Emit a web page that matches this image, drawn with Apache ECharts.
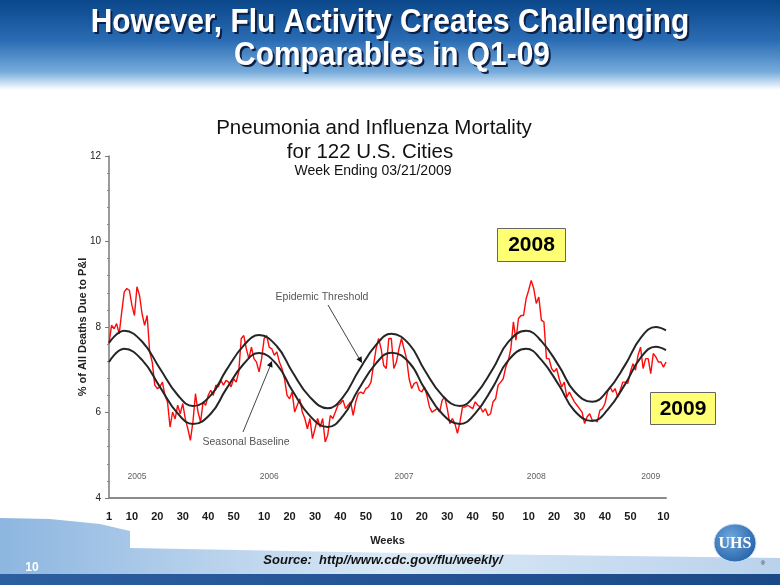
<!DOCTYPE html>
<html><head><meta charset="utf-8">
<script src="https://cdn.jsdelivr.net/npm/echarts@6/dist/echarts.min.js"></script>
<style>html,body{margin:0;padding:0;background:#fff}#c{width:780px;height:585px}</style>
</head><body><div id="c"></div>
<script>
// ---- data ----
const years = [2005, 2006, 2007, 2008, 2009];
const weeksPerYear = [52, 52, 52, 53, 11];
const xTickWeeks = [10, 20, 30, 40, 50];
const yearLabelIdx = [11, 63, 116, 168, 213];

// % of all deaths due to P&I, weekly (2005 wk1 .. 2009 wk11)
const pAndI = [
  7.61, 8.04, 7.96, 8.08, 7.84, 8.35, 8.82, 8.90, 8.86, 8.51,
  8.27, 8.94, 8.74, 8.31, 8.04, 8.27, 7.42, 7.18, 6.64, 6.56,
  6.60, 6.71, 6.40, 6.25, 5.66, 6.01, 5.85, 6.17, 5.97, 6.21,
  5.85, 5.62, 5.35, 5.78, 6.44, 6.01, 5.78, 6.25, 6.17, 6.40,
  6.52, 6.40, 6.64, 6.60, 6.75, 6.64, 6.75, 6.71, 6.60, 6.79,
  6.71, 6.95, 7.73, 7.80, 7.49, 7.26, 7.53, 7.26, 7.18, 6.95,
  7.26, 7.73, 7.80, 7.53, 7.49, 7.34, 7.42, 7.18, 7.03, 6.79,
  6.40, 6.32, 6.48, 6.01, 6.17, 6.32, 6.01, 5.86, 5.62, 5.86,
  5.39, 5.62, 5.86, 5.66, 5.86, 5.31, 5.47, 5.93, 5.86, 6.01,
  6.17, 6.21, 6.29, 6.09, 6.17, 6.25, 5.93, 6.25, 6.44, 6.48,
  6.44, 6.56, 6.60, 6.71, 7.10, 7.49, 7.73, 7.49, 7.10, 7.03,
  7.73, 7.73, 7.03, 7.18, 7.49, 7.73, 7.49, 7.26, 6.79, 6.56,
  6.68, 6.71, 6.52, 6.48, 6.60, 6.40, 6.13, 6.01, 6.05, 6.09,
  6.01, 6.29, 6.36, 6.09, 5.74, 5.86, 5.74, 5.51, 5.78, 6.13,
  6.13, 6.17, 6.13, 6.09, 6.25, 6.17, 6.13, 6.01, 6.09, 5.93,
  5.97, 6.25, 6.32, 6.64, 6.71, 6.79, 7.06, 7.22, 7.49, 8.12,
  7.69, 8.20, 8.27, 8.27, 8.66, 8.86, 9.09, 8.90, 8.55, 8.70,
  8.16, 8.12, 7.26, 7.26, 7.03, 6.95, 7.03, 6.79, 6.60, 6.71,
  6.36, 6.48, 6.36, 6.25, 6.17, 6.09, 6.01, 5.74, 5.90, 5.97,
  5.82, 5.82, 5.78, 6.05, 6.09, 6.21, 6.48, 6.60, 6.48, 6.56,
  6.36, 6.52, 6.71, 6.71, 6.68, 6.95, 7.14, 6.99, 7.34, 7.53,
  7.03, 7.26, 7.26, 6.91, 7.38, 7.30, 7.18, 7.18, 7.06, 7.18
];

// smooth curves sampled at these week indexes
const curveWeekIdx = [0,6,13,20,27,33, 40,46,53,59, 66,72,79,86, 92,98,105,111,
  118,124,131,138, 144,151,157,164, 170,177,183,190, 196,203,209,215,219];
const thresholdVals = [7.63,7.91,7.66,7.03,6.41,6.15, 6.40,6.98,7.57,7.81, 7.55,6.96,6.36,6.10,
  6.36,6.96,7.58,7.84, 7.60,7.00,6.40,6.15, 6.41,7.03,7.65,7.91, 7.67,7.08,6.49,6.25,
  6.51,7.12,7.74,8.00,7.92];
const baselineVals = [7.18,7.49,7.23,6.60,5.98,5.73, 5.97,6.54,7.14,7.39, 7.12,6.52,5.92,5.66,
  5.92,6.53,7.15,7.40, 7.17,6.57,5.97,5.73, 5.98,6.60,7.22,7.49, 7.23,6.63,6.04,5.80,
  6.06,6.67,7.28,7.54,7.46];

// ---- build ----
const categories = [];
const weekOf = [];
years.forEach((y, k) => {
  for (let w = 1; w <= weeksPerYear[k]; w++) { categories.push(y + ' W' + w); weekOf.push(w); }
});
const thresholdData = curveWeekIdx.map((i, k) => [i, thresholdVals[k]]);
const baselineData = curveWeekIdx.map((i, k) => [i, baselineVals[k]]);
const yearData = yearLabelIdx.map((i, k) => ({ value: [i, 4.5], name: String(years[k]) }));

const F = 'Liberation Sans, Arial, sans-serif';
function txt(text, x, y, font, fill, align, sx) {
  return { type: 'text', x: x, y: y, silent: true, scaleX: sx || 1,
    style: { text: text, font: font, fill: fill, align: align || 'center', verticalAlign: 'middle' } };
}
const TF = 'bold 34px ' + F;

const chart = echarts.init(document.getElementById('c'));
chart.setOption({
  animation: false,
  backgroundColor: '#ffffff',
  grid: { left: 109, right: 114, top: 156, bottom: 87, containLabel: false },
  xAxis: {
    type: 'category', data: categories, boundaryGap: false,
    name: 'Weeks', nameLocation: 'middle', nameGap: 37,
    nameTextStyle: { fontFamily: F, fontSize: 11, fontWeight: 'bold', color: '#222' },
    axisLine: { lineStyle: { color: '#8a8a8a', width: 2 } },
    axisTick: { show: false },
    axisLabel: {
      margin: 13, fontFamily: F, fontSize: 11, fontWeight: 'bold', color: '#1a1a1a',
      interval: (idx) => idx === 0 || xTickWeeks.indexOf(weekOf[idx]) >= 0,
      formatter: (v, idx) => String(weekOf[idx])
    },
    splitLine: { show: false }
  },
  yAxis: {
    type: 'value', min: 4, max: 12, interval: 2,
    name: '% of All Deaths Due to P&I', nameLocation: 'middle', nameGap: 21, nameRotate: 90,
    nameMoveOverlap: false,
    nameTextStyle: { fontFamily: F, fontSize: 11, fontWeight: 'bold', color: '#222' },
    axisLine: { show: true, lineStyle: { color: '#7a7a7a', width: 1.5 } },
    axisTick: { show: true, length: 4, lineStyle: { color: '#7a7a7a' } },
    minorTick: { show: true, splitNumber: 5, length: 2, lineStyle: { color: '#8a8a8a' } },
    axisLabel: { margin: 8, fontFamily: F, fontSize: 10, color: '#222' },
    splitLine: { show: false }
  },
  series: [
    { type: 'line', name: 'P&I', data: pAndI, showSymbol: false, symbol: 'none',
      lineStyle: { color: '#ff0a0a', width: 1.4 }, z: 2 },
    { type: 'line', name: 'Epidemic Threshold', data: thresholdData, symbol: 'none', smooth: 0.45,
      lineStyle: { color: '#252525', width: 2 }, z: 3 },
    { type: 'line', name: 'Seasonal Baseline', data: baselineData, symbol: 'none', smooth: 0.45,
      lineStyle: { color: '#252525', width: 2 }, z: 3 },
    { type: 'scatter', data: yearData, symbolSize: 0, silent: true,
      label: { show: true, position: 'inside', formatter: (p) => p.name,
        fontFamily: F, fontSize: 8.5, color: '#333' } }
  ],
  graphic: [
    // top banner
    { type: 'rect', shape: { x: 0, y: 0, width: 780, height: 90 }, silent: true,
      style: { fill: new echarts.graphic.LinearGradient(0, 0, 0, 1, [
        { offset: 0, color: '#0a468a' }, { offset: 0.45, color: '#2a6cb4' },
        { offset: 0.8, color: '#78abdb' }, { offset: 0.93, color: '#cfe3f5' }, { offset: 1, color: '#ffffff' }]) } },
    txt('However, Flu Activity Creates Challenging', 392, 25, TF, '#0c1f45', 'center', 0.88),
    txt('Comparables in Q1-09', 394, 58, TF, '#0c1f45', 'center', 0.88),
    txt('However, Flu Activity Creates Challenging', 390, 23, TF, '#ffffff', 'center', 0.88),
    txt('Comparables in Q1-09', 392, 56, TF, '#ffffff', 'center', 0.88),
    // bottom decoration
    { type: 'polygon', silent: true,
      shape: { points: [[0,518],[50,519],[100,524],[130,531],[130,548],[400,553],[780,558],[780,575],[0,575]] },
      style: { fill: new echarts.graphic.LinearGradient(0, 0, 1, 0, [
        { offset: 0, color: '#8db6e0' }, { offset: 0.5, color: '#dbe9f6' }, { offset: 1, color: '#b9d2ec' }]) } },
    { type: 'rect', shape: { x: 0, y: 574, width: 780, height: 11 }, silent: true,
      style: { fill: new echarts.graphic.LinearGradient(0, 0, 1, 0, [
        { offset: 0, color: '#2c5f9f' }, { offset: 1, color: '#1b4988' }]) } },
    txt('10', 32, 568, 'bold 12px ' + F, '#ffffff'),
    // UHS logo
    { type: 'ellipse', shape: { cx: 735, cy: 543, rx: 21, ry: 19 }, silent: true,
      style: { fill: new echarts.graphic.RadialGradient(0.4, 0.35, 0.8, [
        { offset: 0, color: '#6ea6dc' }, { offset: 1, color: '#1d5ca4' }]), stroke: '#cfe0f2', lineWidth: 1 } },
    txt('UHS', 735, 544, 'bold 16px "Liberation Serif", serif', '#ffffff'),
    txt('®', 763, 563, '6px ' + F, '#333'),
    // chart titles
    txt('Pneumonia and Influenza Mortality', 374, 128, '20.5px ' + F, '#111'),
    txt('for 122 U.S. Cities', 370, 152, '20.5px ' + F, '#111'),
    txt('Week Ending 03/21/2009', 373, 171, '14px ' + F, '#111'),
    // annotations
    txt('Epidemic Threshold', 322, 297, '10.5px ' + F, '#555'),
    { type: 'line', shape: { x1: 328, y1: 305, x2: 360, y2: 360 }, silent: true, style: { stroke: '#444', lineWidth: 1 } },
    { type: 'polygon', shape: { points: [[362,363],[356.4,359.3],[361.6,356.3]] }, silent: true, style: { fill: '#111' } },
    txt('Seasonal Baseline', 246, 442, '10.5px ' + F, '#555'),
    { type: 'line', shape: { x1: 243, y1: 432, x2: 271, y2: 364 }, silent: true, style: { stroke: '#444', lineWidth: 1 } },
    { type: 'polygon', shape: { points: [[272,361],[272.5,367.7],[266.9,365.3]] }, silent: true, style: { fill: '#111' } },
    { type: 'rect', shape: { x: 497.5, y: 228.5, width: 68, height: 33 }, silent: true,
      style: { fill: '#ffff73', stroke: '#666', lineWidth: 1 } },
    txt('2008', 531.5, 245.5, 'bold 21px ' + F, '#000'),
    { type: 'rect', shape: { x: 650.5, y: 392.5, width: 65, height: 32 }, silent: true,
      style: { fill: '#ffff73', stroke: '#666', lineWidth: 1 } },
    txt('2009', 683, 409, 'bold 21px ' + F, '#000'),
    // source
    txt('Source:  http//www.cdc.gov/flu/weekly/', 383, 560, 'italic bold 13px ' + F, '#111')
  ]
});
</script></body></html>
